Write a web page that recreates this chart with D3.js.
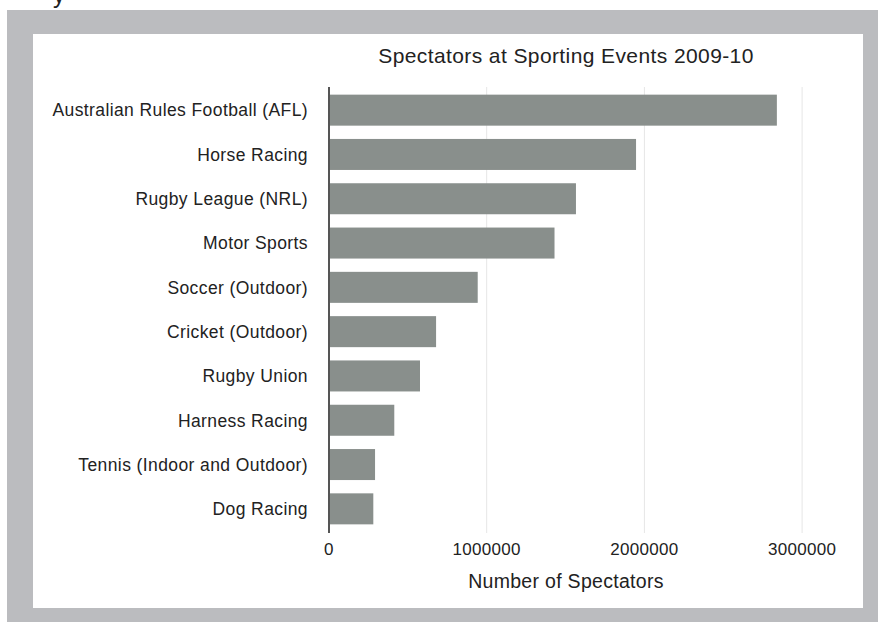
<!DOCTYPE html>
<html>
<head>
<meta charset="utf-8">
<script src="https://cdn.jsdelivr.net/npm/d3@7"></script>
<style>
  body { margin: 0; background: #fff; }
  text { font-family: "Liberation Sans", Arial, Helvetica, sans-serif; fill: #222; }
</style>
</head>
<body>
<div id="chart"></div>
<script>
// data
let sports = ["Australian Rules Football (AFL)", "Horse Racing", "Rugby League (NRL)", "Motor Sports",
  "Soccer (Outdoor)", "Cricket (Outdoor)", "Rugby Union", "Harness Racing",
  "Tennis (Indoor and Outdoor)", "Dog Racing"];
let spectators = [2840000, 1947000, 1566000, 1430000, 943000, 679000, 577000, 414000, 292000, 281000];
let xTicks = [0, 1000000, 2000000, 3000000];

let width = 878, height = 622;
let svg = d3.select("#chart").append("svg")
  .attr("width", width)
  .attr("height", height);

// frame
svg.append("rect").attr("x", 7).attr("y", 10).attr("width", width - 7).attr("height", height - 10)
  .attr("fill", "#bbbcbf");
svg.append("rect").attr("x", 33).attr("y", 34).attr("width", 830).attr("height", 574)
  .attr("fill", "#fff");
// descender of text above the crop
svg.append("text").attr("x", 53).attr("y", 3).style("font-size", "24px").text("y");

let x = d3.scaleLinear().domain([0, 3000000]).range([329, 802.1]);
let y = d3.scaleBand().domain(sports).range([88, 531]).paddingInner(0.3).paddingOuter(0.15);

// gridlines
svg.append("g").selectAll("line")
  .data(xTicks.slice(1))
  .enter().append("line")
  .attr("x1", d => x(d)).attr("x2", d => x(d))
  .attr("y1", 87).attr("y2", 533)
  .attr("stroke", "#e6e6e6").attr("stroke-width", 1);

// bars
svg.append("g").selectAll("rect")
  .data(sports)
  .enter().append("rect")
  .attr("x", x(0))
  .attr("y", d => y(d))
  .attr("width", (d, i) => x(spectators[i]) - x(0))
  .attr("height", y.bandwidth())
  .attr("fill", "#898f8c");

// y axis line
svg.append("line")
  .attr("x1", x(0)).attr("x2", x(0))
  .attr("y1", 87).attr("y2", 533)
  .attr("stroke", "#555").attr("stroke-width", 2);

// category labels
svg.append("g").selectAll("text")
  .data(sports)
  .enter().append("text")
  .attr("x", 308)
  .attr("y", d => y(d) + y.bandwidth() / 2)
  .attr("dy", "0.36em")
  .attr("text-anchor", "end")
  .style("font-size", "17.5px")
  .style("letter-spacing", "0.4px")
  .text(d => d);

// x tick labels
svg.append("g").selectAll("text")
  .data(xTicks)
  .enter().append("text")
  .attr("x", d => x(d))
  .attr("y", 555)
  .attr("text-anchor", "middle")
  .style("font-size", "17px")
  .style("letter-spacing", "0.3px")
  .text(d => d3.format("d")(d));

// titles
svg.append("text")
  .attr("x", 566).attr("y", 63)
  .attr("text-anchor", "middle")
  .style("font-size", "21px")
  .style("letter-spacing", "0.4px")
  .text("Spectators at Sporting Events 2009-10");

svg.append("text")
  .attr("x", 566).attr("y", 588)
  .attr("text-anchor", "middle")
  .style("font-size", "19.5px")
  .style("letter-spacing", "0.3px")
  .text("Number of Spectators");
</script>
</body>
</html>
